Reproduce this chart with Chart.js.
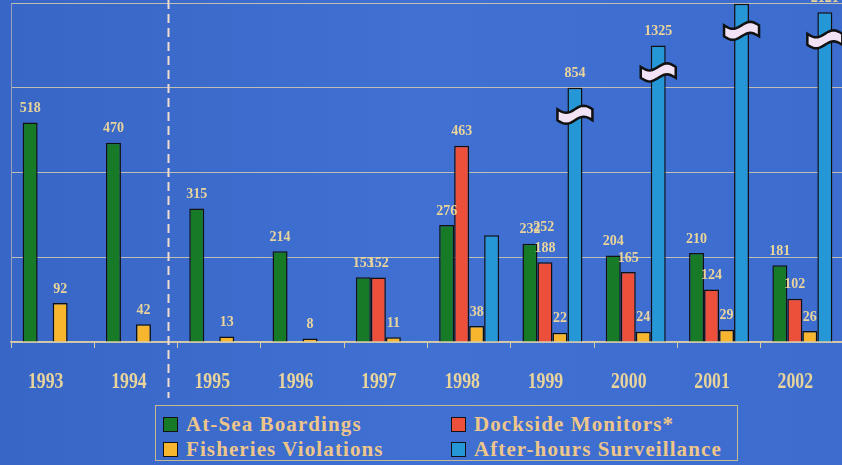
<!DOCTYPE html>
<html lang="en">
<head>
  <meta charset="UTF-8"/>
  <title>Enforcement Activity 1993-2002</title>
  <script src="https://cdn.jsdelivr.net/npm/chart.js"></script>
  <style>
    html, body { margin: 0; padding: 0; overflow: hidden; }
    body { width: 842px; height: 465px; position: relative;
           background: linear-gradient(90deg, #3866c6 0%, #3f70d2 50%, #3d6ccf 100%);
           font-family: "Liberation Serif", "DejaVu Serif", serif; }
    #wrap { position: absolute; left: 0; top: 0; width: 844px; height: 400px; }
    #legend { position: absolute; left: 155px; top: 405px; width: 583px; height: 56px;
              border: 1px solid #c9b98f; box-sizing: border-box; }
    .item { position: absolute; font-weight: bold; font-size: 21px; color: #eec68a;
            letter-spacing: 1.1px; white-space: nowrap; line-height: 22px; }
    .sw { display: inline-block; width: 13px; height: 13px; border: 1.5px solid #111;
          vertical-align: -1px; margin-right: 8px; }
  </style>
</head>
<body>
  <div id="wrap"><canvas id="chart" width="844" height="400"></canvas></div>
  <div id="legend"></div>

  <script>
    // data
    const years = ['1993', '1994', '1995', '1996', '1997', '1998', '1999', '2000', '2001', '2002'];
    const boardings  = [518, 470, 315, 214, 153, 276, 232, 204, 210, 181];
    const dockside   = [null, null, null, null, 152, 463, 188, 165, 124, 102];
    const violations = [92, 42, 13, 8, 11, 38, 22, 24, 29, 26];
    const afterHours = [null, null, null, null, null, 252, 854, 1325, 2401, 2121];
    // heights the after-hours bars are drawn at on the broken axis
    const afterHoursShown = [null, null, null, null, null, 252, 600, 700, 798, 778];
    const yTicks = [0, 200, 400, 600, 800];

    const seriesNames = ['At-Sea Boardings', 'Dockside Monitors*', 'Fisheries Violations', 'After-hours Surveillance'];
    const colors = ['#167a26', '#ec4f3a', '#f7b62e', '#2596d6'];
    const textColor = '#e9d49c';

    // legend (2 x 2 box)
    const legendPos = [[7, 7], [295, 7], [7, 32], [295, 32]];
    [0, 1, 2, 3].forEach((i, k) => {
      const d = document.createElement('div');
      d.className = 'item';
      d.style.left = legendPos[k][0] + 'px';
      d.style.top = legendPos[k][1] + 'px';
      d.innerHTML = '<span class="sw" style="background:' + colors[i] + '"></span>' + seriesNames[i];
      document.getElementById('legend').appendChild(d);
    });

    // value labels, axis break marks, dashed separator, year labels
    const decorations = {
      id: 'decorations',
      afterDatasetsDraw(chart) {
        const ctx = chart.ctx;
        const x = chart.scales.x;
        const area = chart.chartArea;
        const real = [boardings, dockside, violations, afterHours];

        ctx.save();
        ctx.font = 'bold 14px "Liberation Serif", serif';
        ctx.fillStyle = textColor;
        ctx.textAlign = 'center';
        ctx.textBaseline = 'bottom';
        real.forEach((arr, di) => {
          const meta = chart.getDatasetMeta(di);
          arr.forEach((v, i) => {
            if (v == null) return;
            const bar = meta.data[i];
            let dx = 0, dy = 0;
            if (di === 3 && i === 5) { dx = 52; dy = 6; } // label sits off to the right in the original
            ctx.fillText(String(v), bar.x + dx, bar.y - 7 + dy);
          });
        });

        // wavy break marks on the tall after-hours bars
        const meta = chart.getDatasetMeta(3);
        afterHours.forEach((v, i) => {
          if (v == null || v === afterHoursShown[i]) return;
          const bar = meta.data[i];
          const cx = bar.x, cy = bar.y + 27, w = 35, h = 11, a = 3.5;
          ctx.beginPath();
          for (let t = 0; t <= 20; t++) {
            const px = cx - w / 2 + w * t / 20;
            const py = cy - h / 2 + a * Math.sin(Math.PI * 2 * t / 20);
            t === 0 ? ctx.moveTo(px, py) : ctx.lineTo(px, py);
          }
          for (let t = 20; t >= 0; t--) {
            const px = cx - w / 2 + w * t / 20;
            const py = cy + h / 2 + a * Math.sin(Math.PI * 2 * t / 20);
            ctx.lineTo(px, py);
          }
          ctx.closePath();
          ctx.fillStyle = '#f1e2f5';
          ctx.fill();
          ctx.lineWidth = 2.5;
          ctx.strokeStyle = '#111';
          ctx.stroke();
        });

        // dashed separator between 1994 and 1995
        const sx = Math.round(x.getPixelForValue(1.38)) + 0.5;
        ctx.beginPath();
        ctx.setLineDash([9, 5]);
        ctx.lineWidth = 2;
        ctx.strokeStyle = '#f1dccf';
        ctx.moveTo(sx, 0);
        ctx.lineTo(sx, 398);
        ctx.stroke();
        ctx.setLineDash([]);

        // year labels, narrow bold serif
        ctx.fillStyle = textColor;
        ctx.font = 'bold 24px "Liberation Serif", serif';
        ctx.textBaseline = 'alphabetic';
        years.forEach((y, i) => {
          const px = x.getPixelForValue(i) - 7;
          ctx.save();
          ctx.translate(px, area.bottom + 46);
          ctx.scale(0.74, 1);
          ctx.fillText(y, 0, 0);
          ctx.restore();
        });
        ctx.restore();
      }
    };

    const ds = (label, data, color) => ({
      label, data,
      backgroundColor: color,
      borderColor: '#111',
      borderWidth: 1.5,
      borderSkipped: 'bottom',
      categoryPercentage: 0.72,
      barPercentage: 1.0,
      clip: false
    });

    new Chart(document.getElementById('chart'), {
      type: 'bar',
      data: {
        labels: years,
        datasets: [
          ds(seriesNames[0], boardings, colors[0]),
          ds(seriesNames[1], dockside, colors[1]),
          ds(seriesNames[2], violations, colors[2]),
          ds(seriesNames[3], afterHoursShown, colors[3])
        ]
      },
      options: {
        responsive: false,
        animation: false,
        layout: { padding: { top: 3, right: 0, bottom: 0, left: 0 } },
        plugins: { legend: { display: false }, tooltip: { enabled: false } },
        scales: {
          x: {
            grid: { drawOnChartArea: false, drawTicks: true, tickLength: 6, color: '#d9cba6', lineWidth: 1 },
            border: { display: true, color: '#d9cba6', width: 1.5 },
            ticks: { display: false },
            afterFit: s => { s.height = 58; }
          },
          y: {
            min: 0,
            max: 800,
            afterBuildTicks: s => { s.ticks = yTicks.map(v => ({ value: v })); },
            grid: { color: 'rgba(214,204,178,0.85)', lineWidth: 1, drawTicks: false },
            border: { display: true, color: 'rgba(214,204,178,0.6)', width: 1 },
            ticks: { display: false },
            afterFit: s => { s.width = 11; }
          }
        }
      },
      plugins: [decorations]
    });
  </script>
</body>
</html>
